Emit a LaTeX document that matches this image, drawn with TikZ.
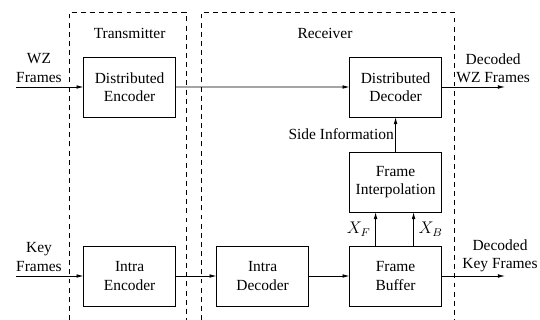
\documentclass[tikz,border=0pt]{standalone}
\usepackage{fontspec}
\setmainfont{Liberation Serif}
\usepackage{tikz}
\usetikzlibrary{positioning,arrows.meta}

\begin{document}
\begin{tikzpicture}[font=\fontsize{11}{13}\selectfont]
        % Style cho các khối: viền đen, nền trắng
        \tikzstyle{block} = [
            draw,
            semithick,
            minimum width=2.3cm,
            minimum height=1.5cm,
            outer sep=0pt,
            align=center
        ]
        \tikzstyle{link} = [semithick, -{Latex[length=5pt, width=2.6pt]}]
        \tikzstyle{zone} = [thin, dash pattern=on 3.5pt off 3pt]
        \tikzstyle{lbl} = [align=center, inner sep=1pt]

        \useasboundingbox (0,0) rectangle (13.5,-8);

        % Hai vùng nét đứt: phát và thu
        \draw[zone] (1.725,-8) |- (4.65,-0.3) -- (4.65,-8);
        \draw[zone] (5.025,-8) |- (11.35,-0.3) -- (11.35,-8);
        \node (tx) at (3.24,-0.825) {Transmitter};
        \node (rx) at (8.125,-0.825) {Receiver};

        % Các khối
        \node[block] (denc) at (3.24,-2.175) {Distributed\\Encoder};
        \node[block, below=3.225cm of denc] (ienc) {Intra\\Encoder};
        \node[block, right=1.025cm of ienc] (idec) {Intra\\Decoder};
        \node[block, right=1.025cm of idec] (fbuf) {Frame\\Buffer};
        \node[block, above=0.85cm of fbuf] (interp) {Frame\\Interpolation};
        \node[block, above=0.875cm of interp] (ddec) {Distributed\\Decoder};

        % Đầu vào và đầu ra
        \coordinate[left=1.69cm of denc.west] (wzin);
        \coordinate[left=1.69cm of ienc.west] (keyin);
        \coordinate[right=1.585cm of ddec.east] (wzout);
        \coordinate[right=1.585cm of fbuf.east] (keyout);

        \node[lbl, anchor=south] (wzlbl) at (0.975,-2.1) {WZ\\Frames};
        \node[lbl, anchor=south] (keylbl) at (0.975,-6.825) {Key\\Frames};
        \node[lbl, anchor=south] (wzoutlbl) at (12.33,-2.12) {Decoded\\WZ Frames};
        \node[lbl, anchor=south] (keyoutlbl) at (12.5,-6.845) {Decoded\\Key Frames};

        % Mũi tên
        \draw[link] (wzin) -- (denc);
        \draw[link] (denc) -- (ddec);
        \draw[link] (ddec) -- (wzout);
        \draw[link] (keyin) -- (ienc);
        \draw[link] (ienc) -- (idec);
        \draw[link] (idec) -- (fbuf);
        \draw[link] (fbuf) -- (keyout);
        \draw[link] (interp) -- node[left, lbl] {Side Information} (ddec);
        \draw[link] ([xshift=-0.5cm]fbuf.north) -- node[left, font=\large] {$X_F$} ([xshift=-0.5cm]interp.south);
        \draw[link] ([xshift=0.45cm]fbuf.north) -- node[right, font=\large] {$X_B$} ([xshift=0.45cm]interp.south);

    \end{tikzpicture}
\end{document}
